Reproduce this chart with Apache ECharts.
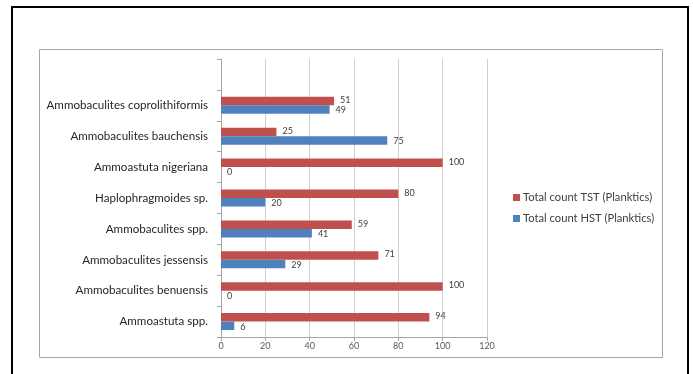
<!DOCTYPE html>
<html>
<head>
<meta charset="UTF-8">
<title>Total count</title>
<script src="https://cdn.jsdelivr.net/npm/echarts@6/dist/echarts.min.js"></script>
<style>
  html, body { margin: 0; padding: 0; background: #fff; }
  #chart { width: 693px; height: 374px; }
</style>
</head>
<body>
<div id="chart"></div>
<script>
// categories from bottom to top, the last one is the empty slot on top
var categories = ['Ammoastuta spp.', 'Ammobaculites benuensis', 'Ammobaculites jessensis',
  'Ammobaculites spp.', 'Haplophragmoides sp.', 'Ammoastuta nigeriana',
  'Ammobaculites bauchensis', 'Ammobaculites coprolithiformis', ''];
var tstValues = [94, 100, 71, 59, 80, 100, 25, 51, null];
var hstValues = [6, 0, 29, 41, 20, 0, 75, 49, null];
var seriesNames = ['Total count TST (Planktics)', 'Total count HST (Planktics)'];
var xTicks = [0, 20, 40, 60, 80, 100, 120];

var font = 'Lato, "Noto Sans", sans-serif';
var myChart = echarts.init(document.getElementById('chart'));

var option = {
  animation: false,
  textStyle: { fontFamily: font },
  graphic: [
    { type: 'rect', shape: { x: 12, y: 7, width: 676, height: 380 }, style: { fill: 'none', stroke: '#000', lineWidth: 2 } },
    { type: 'rect', shape: { x: 39.5, y: 49.5, width: 623, height: 308 }, style: { fill: 'none', stroke: '#a6a6a6', lineWidth: 1 } }
  ],
  legend: {
    orient: 'vertical',
    left: 508,
    top: 187,
    itemWidth: 7,
    itemHeight: 7,
    itemGap: 10,
    icon: 'rect',
    data: seriesNames,
    textStyle: { fontSize: 11.2, color: '#404040', fontFamily: font, padding: [0, 0, 0, -2] }
  },
  grid: { left: 221, right: 206, top: 59, bottom: 37, containLabel: false },
  xAxis: {
    type: 'value',
    min: xTicks[0],
    max: xTicks[xTicks.length - 1],
    interval: 20,
    axisLine: { show: true, lineStyle: { color: '#a6a6a6' } },
    axisTick: { show: true, length: 4, lineStyle: { color: '#a6a6a6' } },
    axisLabel: { fontSize: 9, color: '#595959', margin: 5 },
    splitLine: { show: true, lineStyle: { color: '#cfcfcf' } }
  },
  yAxis: {
    type: 'category',
    data: categories,
    axisLine: { show: true, lineStyle: { color: '#a6a6a6' } },
    axisTick: { show: true, length: 4, lineStyle: { color: '#a6a6a6' } },
    axisLabel: { fontSize: 11.6, color: '#262626', margin: 13 }
  },
  series: [
    {
      name: seriesNames[0],
      type: 'bar',
      data: tstValues,
      barWidth: 8.5,
      barGap: 0,
      itemStyle: { color: '#c0504d' },
      label: { show: true, position: 'right', fontSize: 9, color: '#404040', distance: 6, offset: [0, -1] }
    },
    {
      name: seriesNames[1],
      type: 'bar',
      data: hstValues,
      barWidth: 8.5,
      barGap: 0,
      itemStyle: { color: '#4f81bd' },
      label: { show: true, position: 'right', fontSize: 9, color: '#404040', distance: 6, offset: [0, 1] }
    }
  ]
};
myChart.setOption(option);
</script>
</body>
</html>
